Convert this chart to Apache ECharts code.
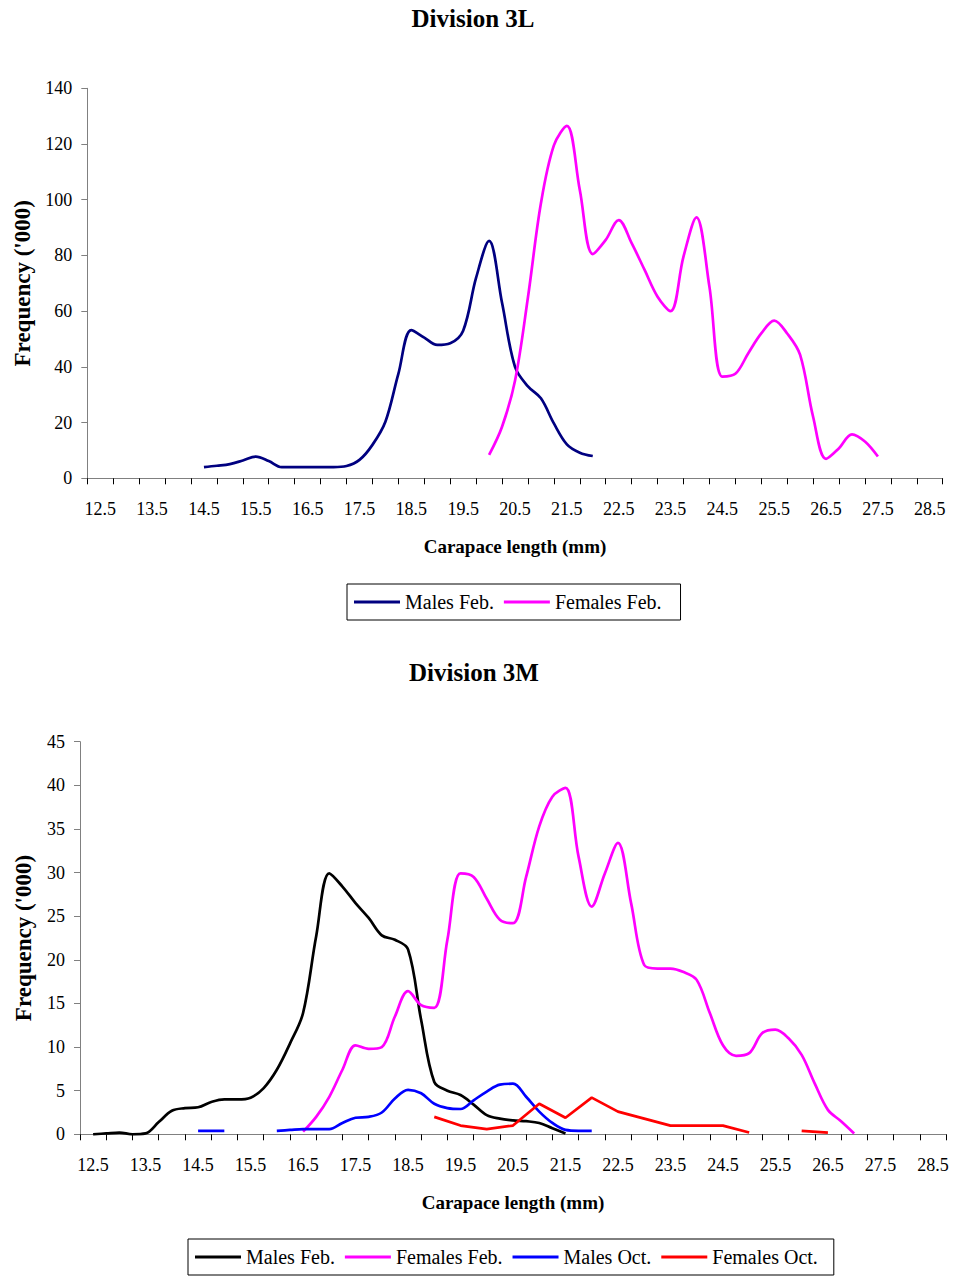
<!DOCTYPE html>
<html>
<head>
<meta charset="utf-8">
<script src="https://cdn.jsdelivr.net/npm/echarts@6/dist/echarts.min.js"></script>
<style>
html,body{margin:0;padding:0;background:#fff;}
#c1{position:absolute;left:0;top:0;width:954px;height:640px;}
#c2{position:absolute;left:0;top:640px;width:954px;height:636px;}
</style>
</head>
<body>
<div id="c1"></div>
<div id="c2"></div>
<script>
// ---------- data ----------
const xTickLabels = [12.5, 13.5, 14.5, 15.5, 16.5, 17.5, 18.5, 19.5, 20.5, 21.5, 22.5, 23.5, 24.5, 25.5, 26.5, 27.5, 28.5];

// Division 3L
const males3L_x = [14.5, 14.75, 15, 15.25, 15.5, 15.75, 16, 16.25, 16.5, 16.75, 17, 17.25, 17.5, 17.75, 18, 18.25, 18.5, 18.75, 19, 19.25, 19.5, 19.75, 20, 20.25, 20.5, 20.75, 21, 21.25, 21.5, 21.75, 22];
const males3L_y = [4, 4.5, 5.1, 6.4, 7.8, 6.2, 4, 4, 4, 4, 4, 4.4, 6.6, 12, 20.3, 37.5, 53.2, 50.5, 47.9, 48.5, 53, 72, 85.2, 63, 40, 33, 28.7, 19.7, 12.2, 9.2, 8];
const females3L_x = [20, 20.25, 20.5, 20.75, 21, 21.25, 21.5, 21.75, 22, 22.25, 22.5, 22.75, 23, 23.25, 23.5, 23.75, 24, 24.25, 24.5, 24.75, 25, 25.25, 25.5, 25.75, 26, 26.25, 26.5, 26.75, 27, 27.25, 27.5];
const females3L_y = [8.4, 18.5, 35, 65, 98.7, 119.5, 126.5, 103.5, 80.5, 85.6, 92.7, 84.4, 74.8, 65.2, 60, 79.6, 93.7, 68.8, 36.5, 37.5, 44.9, 52, 56.6, 52, 44.3, 22.1, 7, 10.8, 15.8, 13.2, 7.8];

// Division 3M
const males3M_x = [12.5, 12.75, 13, 13.25, 13.5, 13.75, 14, 14.25, 14.5, 14.75, 15, 15.25, 15.5, 15.75, 16, 16.25, 16.5, 16.75, 17, 17.25, 17.5, 17.75, 18, 18.25, 18.5, 18.75, 19, 19.25, 19.5, 19.75, 20, 20.25, 20.5, 20.75, 21, 21.25, 21.5];
const males3M_y = [0, 0.1, 0.2, 0, 0.1, 1.4, 2.7, 3.0, 3.1, 3.7, 4.0, 4.0, 4.2, 5.3, 7.4, 10.4, 13.9, 22.7, 29.9, 28.4, 26.5, 24.8, 22.8, 22.3, 21.2, 13.1, 6.0, 5.0, 4.5, 3.4, 2.2, 1.8, 1.6, 1.5, 1.3, 0.7, 0.1];
const females3M_x = [16.5, 16.75, 17, 17.25, 17.5, 17.75, 18, 18.25, 18.5, 18.75, 19, 19.25, 19.5, 19.75, 20, 20.25, 20.5, 20.75, 21, 21.25, 21.5, 21.75, 22, 22.25, 22.5, 22.75, 23, 23.25, 23.5, 23.75, 24, 24.25, 24.5, 24.75, 25, 25.25, 25.5, 25.75, 26, 26.25, 26.5, 26.75, 27];
const females3M_y = [0.3, 2.0, 4.3, 7.4, 10.2, 9.8, 10.0, 13.5, 16.4, 14.8, 14.5, 22.3, 29.9, 29.5, 27.0, 24.6, 24.2, 29.5, 35.3, 38.7, 39.7, 31.8, 26.1, 29.9, 33.4, 26.5, 19.4, 19.0, 19.0, 18.6, 17.7, 13.9, 10.2, 9.0, 9.3, 11.6, 12.0, 11.0, 9.1, 5.8, 2.8, 1.5, 0.1];
const malesOct3M_x = [14.5, 14.75, 15, 15.25, 15.5, 15.75, 16, 16.25, 16.5, 16.75, 17, 17.25, 17.5, 17.75, 18, 18.25, 18.5, 18.75, 19, 19.25, 19.5, 19.75, 20, 20.25, 20.5, 20.75, 21, 21.25, 21.5, 21.75, 22];
const malesOct3M_y = [0.4, 0.4, 0.4, null, null, null, 0.4, 0.5, 0.6, 0.6, 0.6, 1.3, 1.9, 2.0, 2.5, 4.1, 5.1, 4.7, 3.5, 3.0, 2.9, 3.9, 4.9, 5.7, 5.8, 4.3, 2.6, 1.3, 0.5, 0.4, 0.4];
const femalesOct3M_x = [19, 19.5, 20, 20.5, 21, 21.5, 22, 22.5, 23, 23.5, 24, 24.5, 25, 25.5, 26, 26.5];
const femalesOct3M_y = [2.0, 1.0, 0.6, 1.0, 3.5, 1.9, 4.2, 2.6, 1.8, 1.0, 1.0, 1.0, 0.2, null, 0.4, 0.2];

// ---------- helpers ----------
const FONT = '"Liberation Serif", "Times New Roman", Times, serif';
const X_MIN = 12.25, X_MAX = 28.75;
const tickBounds = [];
for (let v = X_MIN; v <= X_MAX + 1e-9; v += 0.5) tickBounds.push(+v.toFixed(2));

function pairs(xs, ys) {
  return xs.map((x, i) => [x, ys[i] == null ? '-' : ys[i]]);
}

function lineSeries(name, xs, ys, color, smooth) {
  return {
    name: name, type: 'line', data: pairs(xs, ys),
    showSymbol: false, symbol: 'none', connectNulls: false,
    smooth: smooth, animation: false,
    lineStyle: { color: color, width: 2.7 },
    itemStyle: { color: color }
  };
}

function buildOption(cfg) {
  return {
    animation: false,
    backgroundColor: '#fff',
    title: {
      text: cfg.title, left: cfg.titleX, top: cfg.titleY, textAlign: 'center',
      textStyle: { fontFamily: FONT, fontSize: 25, fontWeight: 'bold', color: '#000' }
    },
    grid: cfg.grid,
    legend: {
      left: cfg.legendLeft, top: cfg.legendTop,
      icon: 'rect', itemWidth: 46, itemHeight: 3, itemGap: 10,
      padding: [8, cfg.legendPadRight, 8, 7],
      borderColor: '#000', borderWidth: 1,
      textStyle: { fontFamily: FONT, fontSize: 20, color: '#000' },
      data: cfg.series.map(s => s.name)
    },
    xAxis: {
      type: 'value', min: X_MIN, max: X_MAX,
      name: 'Carapace length (mm)', nameLocation: 'middle', nameGap: 59,
      nameTextStyle: { fontFamily: FONT, fontSize: 19, fontWeight: 'bold', color: '#000' },
      axisLine: { show: true, lineStyle: { color: '#808080', width: 1 } },
      axisTick: { show: true, customValues: tickBounds, length: 6, inside: false, lineStyle: { color: '#000', width: 1 } },
      axisLabel: { customValues: xTickLabels, margin: 22, fontFamily: FONT, fontSize: 18, color: '#000' },
      splitLine: { show: false }
    },
    yAxis: {
      type: 'value', min: 0, max: cfg.yMax, interval: cfg.yInterval,
      name: "Frequency ('000)", nameLocation: 'middle', nameGap: cfg.yNameGap, nameRotate: 90,
      nameTextStyle: { fontFamily: FONT, fontSize: 23, fontWeight: 'bold', color: '#000' },
      axisLine: { show: true, lineStyle: { color: '#808080', width: 1 } },
      axisTick: { show: true, length: 6, lineStyle: { color: '#808080', width: 1 } },
      axisLabel: { margin: 15, fontFamily: FONT, fontSize: 18, color: '#000' },
      splitLine: { show: false }
    },
    series: cfg.series
  };
}

const chart1 = echarts.init(document.getElementById('c1'), null, { renderer: 'svg' });
chart1.setOption(buildOption({
  title: 'Division 3L', titleX: 468, titleY: 1,
  grid: { left: 87.3, top: 88.3, width: 855.4, height: 390 },
  yMax: 140, yInterval: 20, yNameGap: 52,
  legendLeft: 347, legendTop: 584, legendPadRight: 19,
  series: [
    lineSeries('Males Feb.', males3L_x, males3L_y, '#000080', 0.35),
    lineSeries('Females Feb.', females3L_x, females3L_y, '#FF00FF', 0.35)
  ]
}));

const chart2 = echarts.init(document.getElementById('c2'), null, { renderer: 'svg' });
chart2.setOption(buildOption({
  title: 'Division 3M', titleX: 469, titleY: 15,
  grid: { left: 80, top: 101.7, width: 866, height: 392.6 },
  yMax: 45, yInterval: 5, yNameGap: 45,
  legendLeft: 188, legendTop: 599, legendPadRight: 16,
  series: [
    lineSeries('Males Feb.', males3M_x, males3M_y, '#000000', 0.35),
    lineSeries('Females Feb.', females3M_x, females3M_y, '#FF00FF', 0.35),
    lineSeries('Males Oct.', malesOct3M_x, malesOct3M_y, '#0000FF', 0.35),
    lineSeries('Females Oct.', femalesOct3M_x, femalesOct3M_y, '#FF0000', false)
  ]
}));
</script>
</body>
</html>
